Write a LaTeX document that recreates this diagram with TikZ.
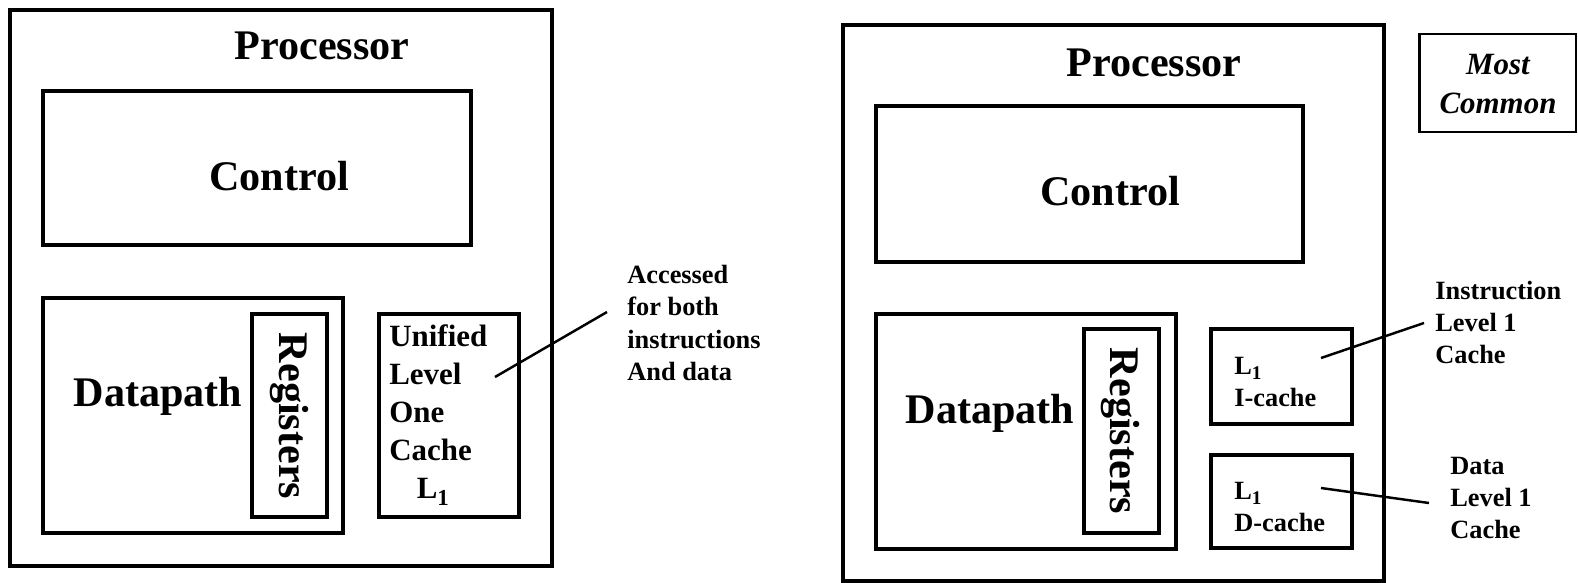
\documentclass[tikz,border=0pt]{standalone}
\usepackage{fontspec}
\setmainfont{Liberation Serif}
\usetikzlibrary{positioning}
\newcommand{\Lsub}[1]{L\raisebox{-0.45ex}{\fontsize{#1}{#1}\selectfont 1}}

\begin{document}
\begin{tikzpicture}[x = 0.02cm, y = -0.02cm]

\tikzset{
box/.style = {rectangle, draw, line width = 2.6pt, inner sep = 0pt},
tag/.style = {rectangle, draw, line width = 1.4pt, inner sep = 0pt},
big/.style = {font = \fontsize{24}{28}\selectfont\bfseries, inner sep = 0pt},
mid/.style = {font = \fontsize{17.6}{21.7}\selectfont\bfseries, inner sep = 0pt, align = left},
small/.style = {font = \fontsize{15}{18.3}\selectfont\bfseries, inner sep = 0pt, align = left},
pointer/.style = {line width = 1.4pt},
	}

\useasboundingbox (0, 0) rectangle (1578, 582);

% Unified cache
\node at (281, 288) [box, minimum width = 10.84cm, minimum height = 11.12cm] (procL) {};
\node at (322, 59) [big, anchor = base] (procLtxt) {Processor};
\node at (257, 168) [box, minimum width = 8.56cm, minimum height = 3.08cm] (ctrlL) {};
\node at (279, 190) [big, anchor = base] (ctrlLtxt) {Control};
\node at (193, 415.5) [box, minimum width = 6cm, minimum height = 4.7cm] (dpL) {};
\node at (158, 406) [big, anchor = base] (dpLtxt) {Datapath};
\node at (289.5, 415.5) [box, minimum width = 1.5cm, minimum height = 4.06cm] (regL) {};
\node at (289, 416) [big, rotate = -90] (regLtxt) {Registers};
\node at (449, 415.5) [box, minimum width = 2.8cm, minimum height = 4.06cm] (uni) {};
\node at (389, 415) [mid, anchor = west] (unitxt) {Unified\\Level\\One\\Cache\\\hspace*{0.55cm}\Lsub{13}};
\node at (627, 323) [small, anchor = west] (unianno) {Accessed\\for both\\instructions\\And data};
\coordinate (uniend) at (495, 377);
\coordinate (annoend) at (607, 312);
\draw [pointer] (uniend) -- (annoend);

% Split caches
\node at (1113.5, 303) [box, minimum width = 10.82cm, minimum height = 11.12cm] (procR) {};
\node at (1154, 76) [big, anchor = base] (procRtxt) {Processor};
\node at (1089.5, 184) [box, minimum width = 8.54cm, minimum height = 3.12cm] (ctrlR) {};
\node at (1110, 205) [big, anchor = base] (ctrlRtxt) {Control};
\node at (1026, 431.5) [box, minimum width = 6cm, minimum height = 4.7cm] (dpR) {};
\node at (990, 423) [big, anchor = base] (dpRtxt) {Datapath};
\node at (1121.5, 431) [box, minimum width = 1.5cm, minimum height = 4.08cm] (regR) {};
\node at (1120, 431) [big, rotate = -90] (regRtxt) {Registers};
\node at (1281.5, 376.5) [box, minimum width = 2.82cm, minimum height = 1.9cm] (icache) {};
\node at (1234, 382) [small, anchor = west] (icachetxt) {\Lsub{11}\\I-cache};
\node at (1281.5, 501.5) [box, minimum width = 2.82cm, minimum height = 1.86cm] (dcache) {};
\node at (1234, 507) [small, anchor = west] (dcachetxt) {\Lsub{11}\\D-cache};
\node at (1435, 322.5) [small, anchor = west] (ianno) {Instruction\\Level 1\\Cache};
\node at (1450, 498) [small, anchor = west] (danno) {Data\\Level 1\\Cache};
\coordinate (iend) at (1321, 358);
\coordinate (iannoend) at (1424, 323);
\coordinate (dend) at (1321, 488);
\coordinate (dannoend) at (1429, 503);
\draw [pointer] (iend) -- (iannoend);
\draw [pointer] (dend) -- (dannoend);

% Note
\node at (1497.5, 83) [tag, minimum width = 3.13cm, minimum height = 1.96cm] (most) {};
\node at (1498, 84) [inner sep = 0pt, align = center, font = \fontsize{17.6}{22.7}\selectfont\bfseries\itshape] (mosttxt) {Most\\Common};

\end{tikzpicture}
\end{document}
